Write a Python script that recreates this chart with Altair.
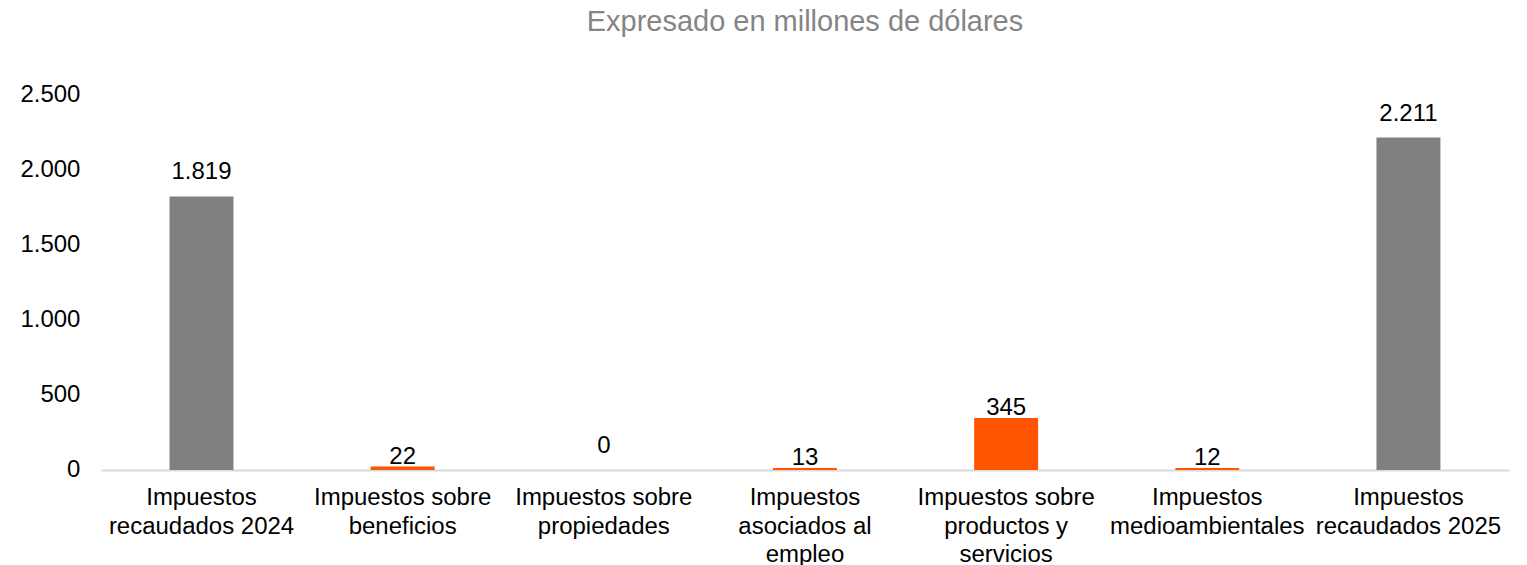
import altair as alt
import pandas as pd

categories = [
    "Impuestos recaudados 2024",
    "Impuestos sobre beneficios",
    "Impuestos sobre propiedades",
    "Impuestos asociados al empleo",
    "Impuestos sobre productos y servicios",
    "Impuestos medioambientales",
    "Impuestos recaudados 2025",
]
label_lines = [
    ["Impuestos", "recaudados 2024"],
    ["Impuestos sobre", "beneficios"],
    ["Impuestos sobre", "propiedades"],
    ["Impuestos", "asociados al", "empleo"],
    ["Impuestos sobre", "productos y", "servicios"],
    ["Impuestos", "medioambientales"],
    ["Impuestos", "recaudados 2025"],
]
values = [1819, 22, 0, 13, 345, 12, 2211]
kinds = ["total", "cambio", "cambio", "cambio", "cambio", "cambio", "total"]
value_text = ["1.819", "22", "0", "13", "345", "12", "2.211"]

GRAY = "#808080"
ORANGE = "#FF5500"
FONT = "Liberation Sans"
FS = 24

df = pd.DataFrame({
    "categoria": categories,
    "etiqueta": ["\n".join(l) for l in label_lines],
    "valor": values,
    "tipo": kinds,
    "texto": value_text,
})
order = df["etiqueta"].tolist()

x = alt.X(
    "etiqueta:N",
    sort=order,
    title=None,
    scale=alt.Scale(paddingInner=0.682, paddingOuter=0.341),
    axis=alt.Axis(
        labelExpr="split(datum.label, '\\n')",
        labelAngle=0,
        labelFont=FONT,
        labelFontSize=FS,
        labelColor="#000000",
        labelLineHeight=28.5,
        labelPadding=16,
        labelBaseline="top",
        ticks=False,
        domainColor="#d9d9d9",
        domainWidth=2,
        labelLimit=400,
    ),
)
y = alt.Y(
    "valor:Q",
    title=None,
    scale=alt.Scale(domain=[0, 2500], nice=False),
    axis=alt.Axis(
        values=[0, 500, 1000, 1500, 2000, 2500],
        labelExpr="replace(format(datum.value, ',d'), ',', '.')",
        labelFont=FONT,
        labelFontSize=FS,
        labelColor="#000000",
        labelPadding=21,
        ticks=False,
        domain=False,
        grid=False,
    ),
)

base = alt.Chart(df)

bars = base.mark_bar().encode(
    x=x,
    y=y,
    color=alt.Color(
        "tipo:N",
        scale=alt.Scale(domain=["total", "cambio"], range=[GRAY, ORANGE]),
        legend=None,
    ),
)

text_far = base.transform_filter(
    "datum.tipo == 'total' || datum.valor == 0"
).mark_text(
    font=FONT, fontSize=FS, color="#000000", baseline="alphabetic", dy=-17
).encode(x=alt.X("etiqueta:N", sort=order), y=alt.Y("valor:Q"), text="texto:N")

text_near = base.transform_filter(
    "datum.tipo != 'total' && datum.valor != 0"
).mark_text(
    font=FONT, fontSize=FS, color="#000000", baseline="alphabetic", dy=-3
).encode(x=alt.X("etiqueta:N", sort=order), y=alt.Y("valor:Q"), text="texto:N")

chart = (
    alt.layer(bars, text_far, text_near)
    .properties(
        width=1409,
        height=376,
        background="white",
        autosize=alt.AutoSizeParams(type="none"),
        padding={"left": 93, "top": 86, "right": 10, "bottom": 110},
        title=alt.TitleParams(
            "Expresado en millones de dólares",
            font=FONT,
            fontSize=29,
            fontWeight="normal",
            color="#858585",
            anchor="middle",
            offset=45,
        ),
    )
    .configure_view(strokeWidth=0)
)

chart.save("out.html", embed_options={"renderer": "svg", "actions": False})
